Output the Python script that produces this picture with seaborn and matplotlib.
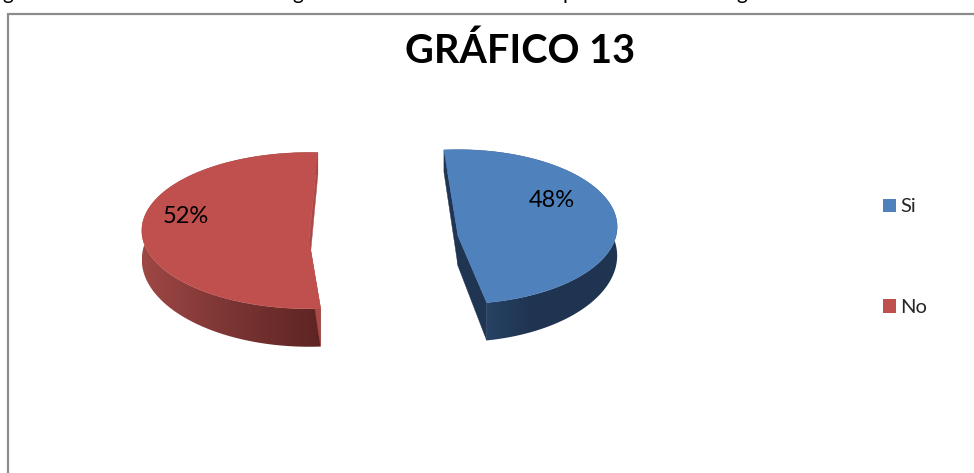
import numpy as np
import pandas as pd
import seaborn as sns
import matplotlib.pyplot as plt
from matplotlib.patches import Patch, Polygon

# chart values
categories = ["Si", "No"]
percentages = [48, 52]
colors = ["#4F81BD", "#C0504D"]
wall_colors = ["#1F3552", "#A84A48"]
side_ramps = [["#2E4F78", "#1F3450", "#1F3450"], ["#9E4745", "#7A3533", "#5E2423"]]

# where each exploded slice sits in the picture
apex = [(458, 236), (309, 240)]
radius_x = [158, 166]
radius_y = [76, 77]
start_angle = [94.5, 274.5]
persp = -0.12
depth_mid, depth_tilt = 30, 8

# tails of the cropped line of text above the chart
cut_letters = ["g", "g", "p", "g"]
cut_x = [8, 298, 568, 742]

df = pd.DataFrame({"cat": categories, "pct": percentages})
df["sweep"] = df["pct"] / df["pct"].sum() * 360

sns.set_theme(style="white")
plt.rcParams["font.family"] = ["Lato", "DejaVu Sans"]

fig = plt.figure(figsize=(9.74, 4.73), dpi=100)
ax = fig.add_axes([0, 0, 1, 1])
ax.set_xlim(0, 974)
ax.set_ylim(473, 0)
ax.axis("off")


def project(i, ang, r=1.0, down=False):
    t = np.radians(ang)
    u, v = r * np.cos(t), r * np.sin(t)
    s = 1 / (1 + persp * v)
    x = apex[i][0] + radius_x[i] * u * s
    y = apex[i][1] - radius_y[i] * v * s
    if down:
        y = y + depth_mid - depth_tilt * v
    return x, y


handles = []
for i, row in df.iterrows():
    a0 = start_angle[i]
    a1 = a0 - row["sweep"]
    ang = np.linspace(a0, a1, 200)

    # outer side with a left-right shade, clipped to the curved band
    xt, yt = project(i, ang)
    xb, yb = project(i, ang, down=True)
    band = Polygon(np.r_[np.c_[xt, yt], np.c_[xb, yb][::-1]], transform=ax.transData, fc="none", ec="none")
    ax.add_patch(band)
    ramp = sns.blend_palette(side_ramps[i], 64, as_cmap=True)
    im = ax.imshow(np.linspace(0, 1, 64).reshape(1, -1), cmap=ramp, aspect="auto",
                   extent=(xt.min(), xt.max(), 400, 100), zorder=2)
    im.set_clip_path(band)

    # the two cut walls
    for a in (a0, a1):
        px, py = project(i, np.array([a]))
        qx, qy = project(i, np.array([a]), down=True)
        cx, cy = apex[i]
        wall = [(cx, cy), (px[0], py[0]), (qx[0], qy[0]), (cx, cy + depth_mid)]
        ax.add_patch(Polygon(wall, fc=wall_colors[i], ec=wall_colors[i], lw=0.3, zorder=3))

    # top face
    top = np.r_[[apex[i]], np.c_[xt, yt]]
    face = Polygon(top, fc=colors[i], ec=colors[i], lw=0.3, zorder=4, label=row["cat"])
    ax.add_patch(face)
    handles.append(Patch(fc=colors[i], ec="none", label=row["cat"]))

# percent labels
label_pos = [(552, 200), (186, 216)]
for i, row in df.iterrows():
    ax.text(label_pos[i][0], label_pos[i][1], f"{row['pct']}%", fontsize=17, color="black",
            ha="center", va="center", zorder=5)

ax.text(520, 51, "GRÁFICO 13", fontsize=28.5, fontweight="bold", ha="center", va="center", color="black")

for letter, x in zip(cut_letters, cut_x):
    ax.text(x, -1, letter, fontsize=15, ha="center", va="baseline", color="black", clip_on=True)

ax.legend(handles=handles, loc="upper left", bbox_to_anchor=(883 / 974, 1 - 198.5 / 473), frameon=False,
          fontsize=14.5, handlelength=0.65, handleheight=0.65, handletextpad=0.2, labelspacing=4.15,
          borderpad=0, borderaxespad=0)

# chart frame, cut off by the crop on the right and bottom
ax.plot([8, 8, 974], [473, 14, 14], color="#8C8C8C", lw=1.6, solid_joinstyle="miter", clip_on=False)

fig.savefig("out.png", dpi=100)
